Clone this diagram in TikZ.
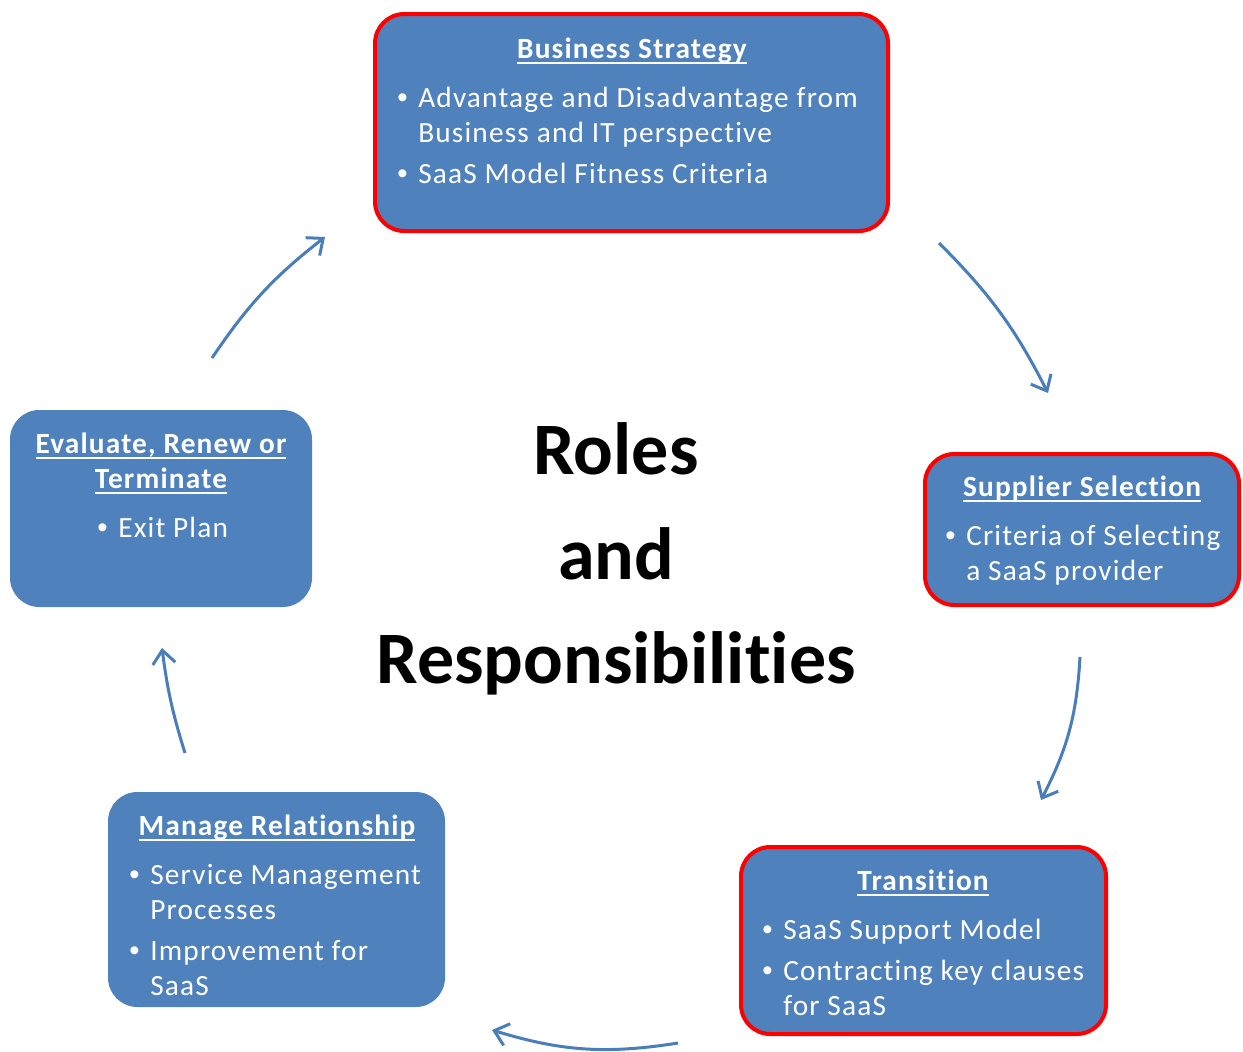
\documentclass[tikz,border=0pt]{standalone}
\usepackage{fontspec}
\setmainfont{Carlito}
\newfontfamily\bodyfam{Carlito}[LetterSpace=4, Ligatures=NoCommon]
\newfontfamily\bigfam{Carlito}[Ligatures=NoCommon]
\newfontfamily\bulfam{Liberation Sans}
\usetikzlibrary{arrows.meta}
\definecolor{boxblue}{HTML}{4F81BD}
\definecolor{arrowblue}{HTML}{4A7EBB}
\newcommand\bodyfnt{\bodyfam\fontsize{22}{26}\selectfont}
\newcommand\ulbox[1]{\leavevmode\setbox0=\hbox{#1}\rlap{\vrule width\wd0 height -2.8pt depth 4.4pt}\box0}
\newcommand\bul{\makebox[15.75pt][l]{{\bulfam •}}}
\tikzset{
  box/.style={fill=boxblue, rounded corners=22pt, inner sep=0pt},
  redbox/.style={box, draw=red, line width=3pt},
  txt/.style={text=white, font=\bodyfnt, inner sep=0pt, anchor=base west},
  ttl/.style={text=white, font=\bodyfnt\bfseries, inner sep=0pt, anchor=base},
  big/.style={text=black, font=\bigfam\fontsize{55.5}{60}\selectfont\bfseries, inner sep=0pt, anchor=base},
  arr/.style={draw=arrowblue, line width=2.25pt, -{Straight Barb[length=10pt,width=17pt]}}
}
\begin{document}
\begin{tikzpicture}[x=0.75pt,y=-0.75pt]
\useasboundingbox (0,0) rectangle (1243,1051);
% boxes
\node[redbox, minimum width=384.75pt, minimum height=162.75pt] (bs) at (631.5,122.5) {};
\node[redbox, minimum width=235.5pt, minimum height=113.25pt] (ss) at (1082,529.5) {};
\node[redbox, minimum width=273.75pt, minimum height=140.25pt] (tr) at (923.5,940.5) {};
\node[box, minimum width=252.75pt, minimum height=161.25pt] (mr) at (276.5,899.5) {};
\node[box, minimum width=226.5pt, minimum height=147.75pt] (ev) at (161,508.5) {};
% Business Strategy
\node[ttl] (bst) at (632,58) {\ulbox{Business Strategy}};
\node[txt] (bs1) at (397,107) {\bul Advantage and Disadvantage from};
\node[txt] (bs2) at (418,142) {Business and IT perspective};
\node[txt] (bs3) at (397,183) {\bul SaaS Model Fitness Criteria};
% Supplier Selection
\node[ttl] (sst) at (1082,496) {\ulbox{Supplier Selection}};
\node[txt] (ss1) at (945,545) {\bul Criteria of Selecting};
\node[txt] (ss2) at (966,580) {a SaaS provider};
% Transition
\node[ttl] (trt) at (923,890) {\ulbox{Transition}};
\node[txt] (tr1) at (762,939) {\bul SaaS Support Model};
\node[txt] (tr2) at (762,980) {\bul Contracting key clauses};
\node[txt] (tr3) at (783,1015) {for SaaS};
% Manage Relationship
\node[ttl] (mrt) at (277,835) {\ulbox{Manage Relationship}};
\node[txt] (mr1) at (129,884) {\bul Service Management};
\node[txt] (mr2) at (150,919) {Processes};
\node[txt] (mr3) at (129,960) {\bul Improvement for};
\node[txt] (mr4) at (150,995) {SaaS};
% Evaluate
\node[ttl] (evt1) at (161,453) {\ulbox{Evaluate, Renew or}};
\node[ttl] (evt2) at (161,488) {\ulbox{Terminate}};
\node[txt] (ev1) at (97,537) {\bul Exit Plan};
% centre title
\node[big] (r1) at (616,474) {Roles};
\node[big] (r2) at (616,579) {and};
\node[big] (r3) at (616,683) {Responsibilities};
% arrows
\coordinate (a1s) at (212,358); \coordinate (a1e) at (325,237);
\coordinate (a2s) at (939,243); \coordinate (a2e) at (1048,393);
\coordinate (a3s) at (1080,657); \coordinate (a3e) at (1041,800);
\coordinate (a4s) at (678,1043); \coordinate (a4e) at (492,1030);
\coordinate (a5s) at (185,753); \coordinate (a5e) at (162,648);
\draw[arr] (a1s) to[bend left=9] (a1e);
\draw[arr] (a2s) to[bend left=9] (a2e);
\draw[arr] (a3s) to[bend left=12] (a3e);
\draw[arr] (a4s) to[bend left=13] (a4e);
\draw[arr] (a5s) to[bend left=5] (a5e);
\end{tikzpicture}
\end{document}
